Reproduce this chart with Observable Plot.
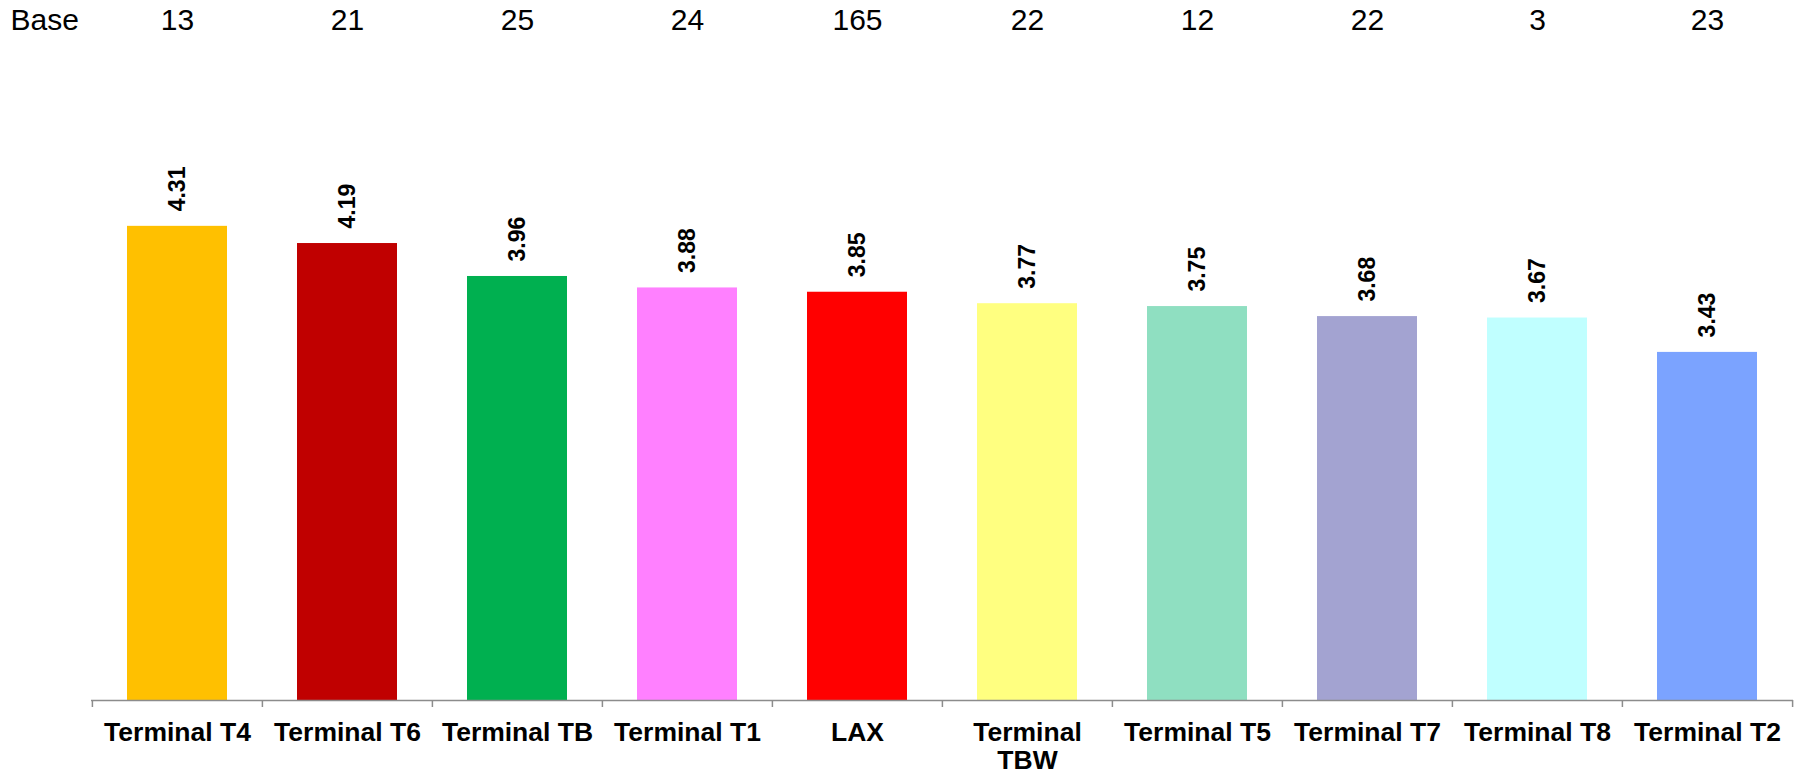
<!DOCTYPE html>
<html>
<head>
<meta charset="utf-8">
<script src="https://cdn.jsdelivr.net/npm/d3@7"></script>
<script src="https://cdn.jsdelivr.net/npm/@observablehq/plot@0.6"></script>
<style>
  html, body { margin: 0; padding: 0; background: #fff; }
</style>
</head>
<body>
<div id="chart"></div>
<script>
const categories = ["Terminal T4", "Terminal T6", "Terminal TB", "Terminal T1", "LAX", "Terminal TBW", "Terminal T5", "Terminal T7", "Terminal T8", "Terminal T2"];
const tickLabels = ["Terminal T4", "Terminal T6", "Terminal TB", "Terminal T1", "LAX", "Terminal\nTBW", "Terminal T5", "Terminal T7", "Terminal T8", "Terminal T2"];
const values = [4.31, 4.19, 3.96, 3.88, 3.85, 3.77, 3.75, 3.68, 3.67, 3.43];
const bases = [13, 21, 25, 24, 165, 22, 12, 22, 3, 23];
const colors = ["#FFC000", "#C00000", "#00B050", "#FF80FF", "#FF0000", "#FFFF80", "#8FDFC1", "#A3A3D1", "#C0FFFF", "#7BA3FF"];
const baseLabel = "Base";
const yDomain = [1, 5];

const data = categories.map((c, i) => ({category: c, label: tickLabels[i], value: values[i], base: bases[i]}));

const W = 1806, H = 775;
const mL = 91, mR = 13;
const band = (W - mL - mR) / categories.length;

const chart = Plot.plot({
  width: W,
  height: H,
  marginTop: 127,
  marginBottom: 75,
  marginLeft: mL,
  marginRight: mR,
  style: {fontFamily: "'Liberation Sans', Arial, sans-serif", background: "#fff", overflow: "visible"},
  x: {type: "band", domain: categories, padding: 0, axis: null},
  y: {domain: yDomain, axis: null},
  color: {domain: categories, range: colors},
  marks: [
    Plot.barY(data, {x: "category", y1: yDomain[0], y2: "value", fill: "category", insetLeft: 35, insetRight: 35}),
    Plot.ruleY([yDomain[0]], {stroke: "#8c8c8c", strokeWidth: 1.5}),
    Plot.ruleX(data, {x: "category", y1: yDomain[0], y2: yDomain[0], dx: -band / 2, insetBottom: -7, stroke: "#8c8c8c", strokeWidth: 1.5}),
    Plot.ruleX(data.slice(-1), {x: "category", y1: yDomain[0], y2: yDomain[0], dx: band / 2, insetBottom: -7, stroke: "#8c8c8c", strokeWidth: 1.5}),
    Plot.text(data, {x: "category", y: "value", text: d => d.value.toFixed(2), rotate: -90, textAnchor: "start", lineAnchor: "middle", dy: -15, fontSize: 23, fontWeight: "bold", fill: "#000"}),
    Plot.text(data, {x: "category", text: "label", frameAnchor: "bottom", lineAnchor: "top", dy: 20.5, lineHeight: 1.05, fontSize: 26.5, fontWeight: "bold", fill: "#000"}),
    Plot.text(data, {x: "category", text: d => String(d.base), frameAnchor: "top", lineAnchor: "bottom", dy: -97.5, fontSize: 30, fill: "#000"}),
    Plot.text([baseLabel], {text: d => d, frameAnchor: "top-left", textAnchor: "start", lineAnchor: "bottom", dx: -81, dy: -97.5, fontSize: 30, fill: "#000"})
  ]
});
document.getElementById("chart").appendChild(chart);
</script>
</body>
</html>
